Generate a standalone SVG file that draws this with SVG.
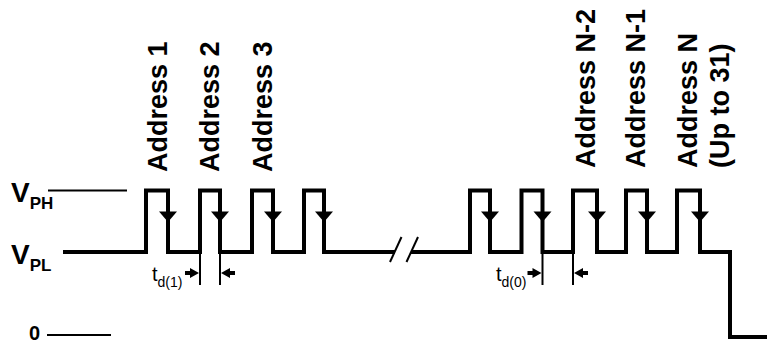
<svg xmlns="http://www.w3.org/2000/svg" width="767" height="343" viewBox="0 0 767 343">
<style>
.wave{fill:none;stroke:#000;stroke-width:4;stroke-linejoin:miter;stroke-linecap:butt}
.thin{fill:none;stroke:#000;stroke-width:2}
.lbl{font-family:"Liberation Sans",Arial,sans-serif;font-weight:bold;font-size:27px;fill:#000}
.v{font-family:"Liberation Sans",Arial,sans-serif;font-weight:bold;fill:#000}
.td{font-family:"Liberation Sans",Arial,sans-serif;fill:#000}
</style>
<defs>
<polygon id="tri" points="-9,211.5 9,211.5 0,222" fill="#000"/>
<polygon id="arrR" points="-14,-2 -9,-2 -9,-5 0,0 -9,5 -9,2 -14,2" fill="#000"/>
</defs>
<rect width="767" height="343" fill="#fff"/>
<g id="labels">
<text class="lbl" transform="translate(166.5,172) rotate(-90)">Address 1</text>
<text class="lbl" transform="translate(218.5,172) rotate(-90)">Address 2</text>
<text class="lbl" transform="translate(271.5,172) rotate(-90)">Address 3</text>
<text class="lbl" transform="translate(595,168) rotate(-90)">Address N-2</text>
<text class="lbl" transform="translate(645,168) rotate(-90)">Address N-1</text>
<text class="lbl" transform="translate(697,168) rotate(-90)">Address N</text>
<text class="lbl" transform="translate(729,168) rotate(-90)">(Up to 31)</text>
</g>
<g id="levels">
<text class="v" x="11" y="201.5" font-size="28">V<tspan font-size="17" dy="7">PH</tspan></text>
<line class="thin" x1="48" y1="190.5" x2="127" y2="190.5"/>
<text class="v" x="11" y="263.5" font-size="28">V<tspan font-size="17" dy="7">PL</tspan></text>
<text class="v" x="29" y="339.5" font-size="20">0</text>
<line class="thin" x1="47" y1="335" x2="111" y2="335"/>
</g>
<g id="connectors">
<polyline class="wave" points="63,252 146,252 146,190.5 168,190.5 168,252 200,252 200,190.5 220,190.5 220,252 252,252 252,190.5 273,190.5 273,252 304,252 304,190.5 324,190.5 324,252 395,252"/>
<polyline class="wave" points="411,252 470,252 470,190.5 490,190.5 490,252 521.5,252 521.5,190.5 542.5,190.5 542.5,252 573,252 573,190.5 597,190.5 597,252 626,252 626,190.5 647,190.5 647,252 677,252 677,190.5 700,190.5 700,252 730,252 730,337 767,337"/>
<line class="thin" x1="390" y1="262" x2="401.5" y2="237"/>
<line class="thin" x1="406.5" y1="262" x2="418" y2="237"/>
<use href="#tri" x="168"/>
<use href="#tri" x="220"/>
<use href="#tri" x="273"/>
<use href="#tri" x="324"/>
<use href="#tri" x="490"/>
<use href="#tri" x="542.5"/>
<use href="#tri" x="597"/>
<use href="#tri" x="647"/>
<use href="#tri" x="700"/>
<line class="thin" x1="200" y1="252" x2="200" y2="285"/>
<line class="thin" x1="220" y1="252" x2="220" y2="285"/>
<line class="thin" x1="542.5" y1="252" x2="542.5" y2="285"/>
<line class="thin" x1="573" y1="252" x2="573" y2="285"/>
<use href="#arrR" transform="translate(199,273)"/>
<use href="#arrR" transform="translate(221,273) rotate(180)"/>
<use href="#arrR" transform="translate(541.5,273)"/>
<use href="#arrR" transform="translate(574,273) rotate(180)"/>
</g>
<g id="td">
<text class="td" x="152" y="281" font-size="20">t<tspan font-size="14" dy="6">d(1)</tspan></text>
<text class="td" x="496" y="281" font-size="20">t<tspan font-size="14" dy="6">d(0)</tspan></text>
</g>
</svg>
